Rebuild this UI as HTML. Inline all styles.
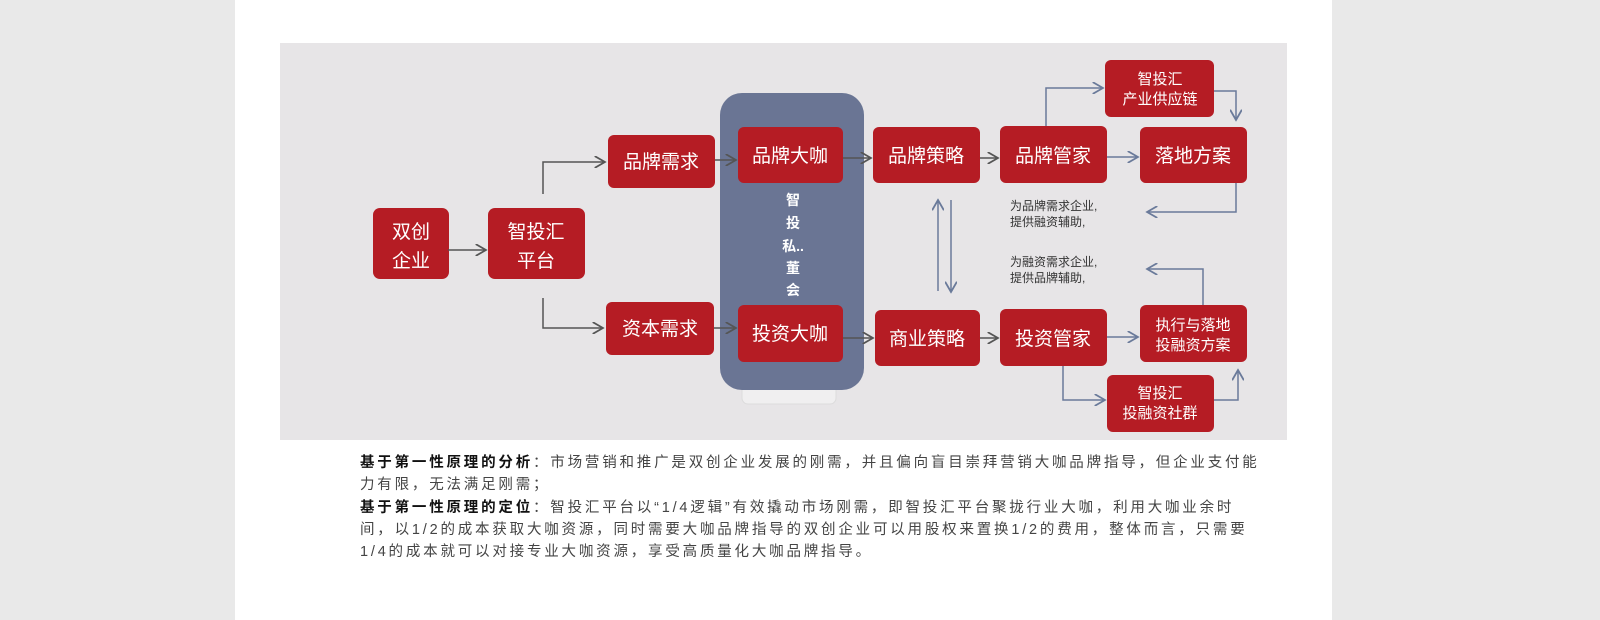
<!DOCTYPE html>
<html><head><meta charset="utf-8"><style>
body{margin:0;width:1600px;height:620px;background:#e9e9e9;font-family:"Liberation Sans","Noto Sans CJK SC",sans-serif;overflow:hidden}
#page{position:absolute;left:235px;top:0;width:1097px;height:620px;background:#fff}
svg{position:absolute;left:0;top:0}
.t{position:absolute;left:360px;width:960px;font-size:14.5px;letter-spacing:2.8px;color:#444;line-height:22px;white-space:nowrap}
.t b{color:#111}
</style></head><body>
<div id="page"></div>
<svg width="1600" height="620" viewBox="0 0 1600 620" font-family="Liberation Sans, Noto Sans CJK SC, sans-serif">
<defs><marker id="a" markerWidth="8" markerHeight="8" refX="7" refY="4" orient="auto"><path d="M0,0 L7,4 L0,8" fill="none" stroke="#555" stroke-width="1.2"/></marker>
<marker id="b" markerWidth="8" markerHeight="8" refX="7" refY="4" orient="auto"><path d="M0,0 L7,4 L0,8" fill="none" stroke="#6a7a9a" stroke-width="1.2"/></marker></defs>
<rect x="280" y="43" width="1007" height="397" fill="#e7e5e7"/>
<rect x="742" y="340" width="94" height="64" rx="6" fill="#f0eff0" stroke="#dcdcdc"/>
<rect x="720" y="93" width="144" height="297" rx="22" fill="#6a7594"/>
<g fill="#b51c24">
<rect x="373" y="208" width="76" height="71" rx="7"/>
<rect x="488" y="208" width="97" height="71" rx="7"/>
<rect x="608" y="135" width="107" height="53" rx="6"/>
<rect x="606" y="302" width="108" height="53" rx="6"/>
<rect x="738" y="127" width="105" height="56" rx="6"/>
<rect x="738" y="305" width="105" height="57" rx="6"/>
<rect x="873" y="127" width="107" height="56" rx="6"/>
<rect x="875" y="310" width="105" height="56" rx="6"/>
<rect x="1000" y="126" width="107" height="57" rx="6"/>
<rect x="1000" y="309" width="107" height="57" rx="6"/>
<rect x="1140" y="127" width="107" height="56" rx="6"/>
<rect x="1105" y="60" width="109" height="57" rx="6"/>
<rect x="1140" y="305" width="107" height="57" rx="6"/>
<rect x="1107" y="375" width="107" height="57" rx="6"/>
</g>
<g fill="#fff" text-anchor="middle" font-size="19">
<text x="411" y="238">双创</text><text x="411" y="267">企业</text>
<text x="536" y="238">智投汇</text><text x="536" y="267">平台</text>
<text x="661" y="168">品牌需求</text>
<text x="660" y="335">资本需求</text>
<text x="790" y="162">品牌大咖</text>
<text x="790" y="340">投资大咖</text>
<text x="926" y="162">品牌策略</text>
<text x="927" y="345">商业策略</text>
<text x="1053" y="162">品牌管家</text>
<text x="1053" y="345">投资管家</text>
<text x="1193" y="162">落地方案</text>
<text x="1193" y="330" font-size="15">执行与落地</text>
<text x="1193" y="350" font-size="15">投融资方案</text>
<text x="1160" y="84" font-size="15">智投汇</text>
<text x="1160" y="104" font-size="15">产业供应链</text>
<text x="1160" y="398" font-size="15">智投汇</text>
<text x="1160" y="418" font-size="15">投融资社群</text>
</g>
<g fill="#fff" text-anchor="middle" font-size="14" font-weight="bold">
<text x="793" y="205">智</text><text x="793" y="228">投</text><text x="793" y="251">私..</text><text x="793" y="273">董</text><text x="793" y="295">会</text>
</g>
<g stroke="#555" stroke-width="1.5" fill="none" marker-end="url(#a)">
<path d="M448,250 H486"/>
<path d="M543,194 V162 H605"/>
<path d="M543,298 V328 H603"/>
<path d="M715,160 H736"/>
<path d="M714,328 H736"/>
<path d="M843,158 H871"/>
<path d="M843,338 H873"/>
<path d="M980,158 H998"/>
<path d="M980,338 H998"/>
</g>
<g stroke="#6a7a9a" stroke-width="1.5" fill="none" marker-end="url(#b)">
<path d="M1107,157 H1138"/>
<path d="M1046,126 V88 H1103"/>
<path d="M1214,91 H1236 V120"/>
<path d="M1236,183 V212 H1147"/>
<path d="M1203,305 V269 H1147"/>
<path d="M938,291 V200" /><path d="M951,200 V292"/>
<path d="M1107,337 H1138"/>
<path d="M1063,366 V400 H1105"/>
<path d="M1214,400 H1238 V370"/>
</g>
<g fill="#333" font-size="12">
<text x="1010" y="210">为品牌需求企业,</text><text x="1010" y="226">提供融资辅助,</text>
<text x="1010" y="266">为融资需求企业,</text><text x="1010" y="282">提供品牌辅助,</text>
</g>
</svg>
<div class="t" style="top:452px"><b>基于第一性原理的分析</b>：市场营销和推广是双创企业发展的刚需，并且偏向盲目崇拜营销大咖品牌指导，但企业支付能<br>力有限，无法满足刚需；</div>
<div class="t" style="top:497px"><b>基于第一性原理的定位</b>：智投汇平台以“1/4逻辑”有效撬动市场刚需，即智投汇平台聚拢行业大咖，利用大咖业余时<br>间，以1/2的成本获取大咖资源，同时需要大咖品牌指导的双创企业可以用股权来置换1/2的费用，整体而言，只需要<br>1/4的成本就可以对接专业大咖资源，享受高质量化大咖品牌指导。</div>
</body></html>
